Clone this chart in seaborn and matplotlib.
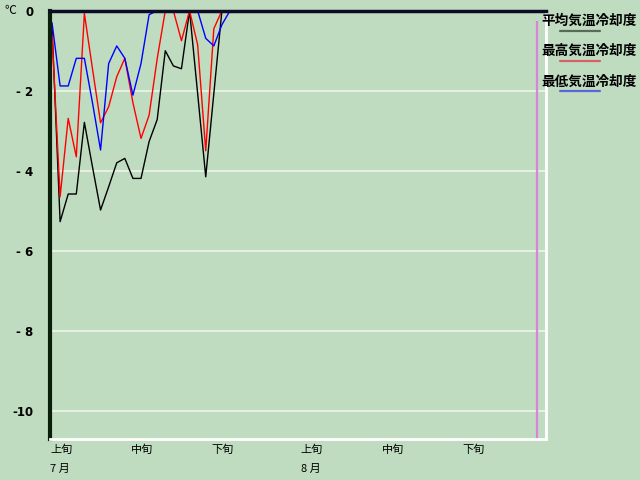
import numpy as np
import pandas as pd
import seaborn as sns
import matplotlib.pyplot as plt
import matplotlib.transforms as mtransforms
from matplotlib.lines import Line2D

# -----------------------------
# Data (cooling degree, daily from 1 July to 31 August)
# -----------------------------
days = list(range(62))

avg_cool = [-0.4, -5.27, -4.58, -4.58, -2.79, -3.9, -4.98, -4.4, -3.8, -3.69,
            -4.19, -4.19, -3.27, -2.72, -1.0, -1.38, -1.45, 0.0, -2.07, -4.15,
            -2.07, 0.0, 0.0, 0.0, 0.0, 0.0, 0.0, 0.0, 0.0, 0.0,
            0.0, 0.0, 0.0, 0.0, 0.0, 0.0, 0.0, 0.0, 0.0, 0.0,
            0.0, 0.0, 0.0, 0.0, 0.0, 0.0, 0.0, 0.0, 0.0, 0.0,
            0.0, 0.0, 0.0, 0.0, 0.0, 0.0, 0.0, 0.0, 0.0, 0.0,
            0.0, 0.0]
max_cool = [-0.6, -4.65, -2.69, -3.65, -0.07, -1.45, -2.8, -2.4, -1.65, -1.19,
            -2.3, -3.19, -2.61, -1.2, 0.0, 0.0, -0.75, 0.0, -0.85, -3.5,
            -0.45, 0.0, 0.0, 0.0, 0.0, 0.0, 0.0, 0.0, 0.0, 0.0,
            0.0, 0.0, 0.0, 0.0, 0.0, 0.0, 0.0, 0.0, 0.0, 0.0,
            0.0, 0.0, 0.0, 0.0, 0.0, 0.0, 0.0, 0.0, 0.0, 0.0,
            0.0, 0.0, 0.0, 0.0, 0.0, 0.0, 0.0, 0.0, 0.0, 0.0,
            0.0, 0.0]
min_cool = [-0.3, -1.88, -1.88, -1.19, -1.19, -2.3, -3.48, -1.32, -0.88, -1.19,
            -2.11, -1.32, -0.1, 0.0, 0.0, 0.0, 0.0, 0.0, 0.0, -0.69,
            -0.88, -0.35, 0.0, 0.0, 0.0, 0.0, 0.0, 0.0, 0.0, 0.0,
            0.0, 0.0, 0.0, 0.0, 0.0, 0.0, 0.0, 0.0, 0.0, 0.0,
            0.0, 0.0, 0.0, 0.0, 0.0, 0.0, 0.0, 0.0, 0.0, 0.0,
            0.0, 0.0, 0.0, 0.0, 0.0, 0.0, 0.0, 0.0, 0.0, 0.0,
            0.0, 0.0]

series_names = ['平均気温冷却度', '最高気温冷却度', '最低気温冷却度']
series_colors = ['#000000', '#ff0000', '#0000ff']
legend_colors = ['#5a6a5a', '#d86060', '#5a66d8']

dekad_days = [0, 10, 20, 31, 41, 51]
dekad_labels = ['上旬', '中旬', '下旬', '上旬', '中旬', '下旬']
month_days = [0, 31]
month_labels = ['7 月', '8 月']
ytick_vals = [0, -2, -4, -6, -8, -10]
ytick_labels = ['0', '- 2', '- 4', '- 6', '- 8', '-10']
marker_day = 60

df = pd.DataFrame({
    'day': days * 3,
    'value': avg_cool + max_cool + min_cool,
    'series': [series_names[0]] * len(days) + [series_names[1]] * len(days) + [series_names[2]] * len(days),
})

# -----------------------------
# Style
# -----------------------------
bg = '#c0dcc0'
sns.set_style('white', {'axes.facecolor': bg, 'figure.facecolor': bg})
plt.rcParams['font.family'] = ['Noto Sans CJK JP', 'DejaVu Sans']
plt.rcParams['text.color'] = 'black'
plt.rcParams['xtick.color'] = 'black'
plt.rcParams['ytick.color'] = 'black'

fig = plt.figure(figsize=(6.4, 4.8), dpi=100)
ax = fig.add_axes([50 / 640, 1 - 439 / 480, 496 / 640, 428.3 / 480])

ax.grid(axis='y', color='#e4f0e4', lw=1.5)
ax.set_axisbelow(True)

sns.lineplot(data=df, x='day', y='value', hue='series', hue_order=series_names,
             palette=dict(zip(series_names, series_colors)), errorbar=None,
             legend=False, lw=1.0, clip_on=False, ax=ax)

ax.vlines(marker_day, -10.7, -0.25, color='#d884d8', lw=1.6, zorder=1)

ax.set_xlim(-0.06, 61.06)
ax.set_ylim(-10.7, 0)
ax.set_xlabel('')
ax.set_ylabel('')

ax.set_yticks(ytick_vals)
ax.set_yticklabels(ytick_labels, fontsize=8.5, fontweight='bold', family=['DejaVu Sans'])
ax.set_xticks([d - 0.25 for d in dekad_days])
ax.set_xticklabels(dekad_labels, fontsize=8, ha='left')
ax.tick_params(axis='both', length=0)
ax.tick_params(axis='y', pad=12)
ax.tick_params(axis='x', pad=4)

ax.spines['left'].set_color('#0a1f0a')
ax.spines['left'].set_linewidth(3)
ax.spines['top'].set_color('#0c0c28')
ax.spines['top'].set_linewidth(2.5)
ax.spines['right'].set_color('white')
ax.spines['right'].set_linewidth(2)
ax.spines['bottom'].set_color('white')
ax.spines['bottom'].set_linewidth(2)

# month labels below the dekad labels
trans = mtransforms.blended_transform_factory(ax.transData, fig.transFigure)
for d, lab in zip(month_days, month_labels):
    ax.text(d - 0.25, 1 - 469 / 480, lab, transform=trans, ha='left', va='center', fontsize=8)

# unit
fig.text(4 / 640, 1 - 11 / 480, '℃', ha='left', va='center', fontsize=8.5)

# legend: label above a short line sample
for i, (name, col) in enumerate(zip(series_names, legend_colors)):
    ty = 1 - (20.5 + 30.5 * i) / 480
    ly = 1 - (31 + 30 * i) / 480
    fig.text(541 / 640, ty, name, ha='left', va='center', fontsize=9.8, fontweight='bold')
    fig.add_artist(Line2D([560 / 640, 600 / 640], [ly, ly], color=col, lw=1.6))

fig.savefig('out.png', dpi=100, facecolor=bg)
